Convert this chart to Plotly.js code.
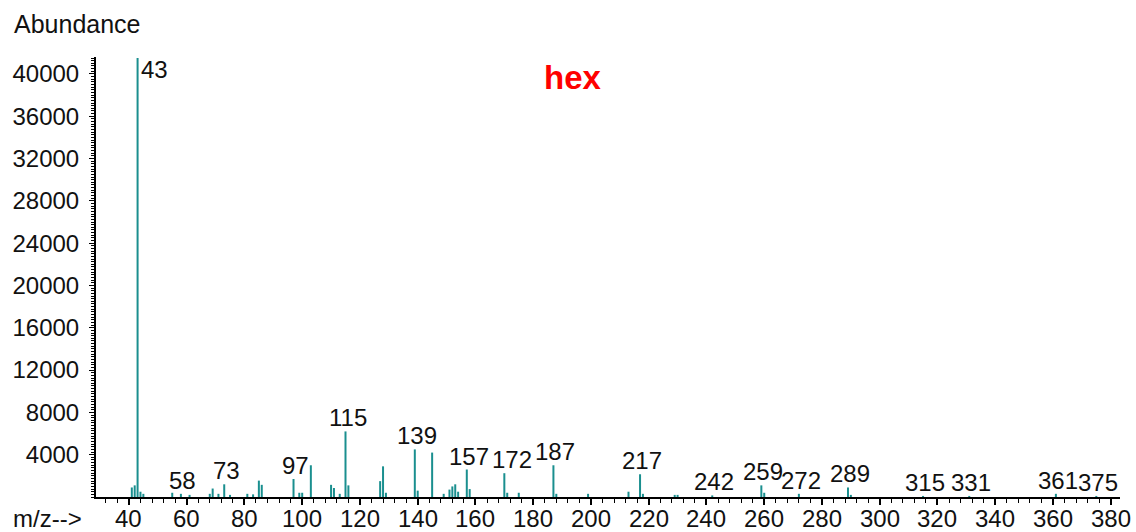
<!DOCTYPE html>
<html>
<head>
<meta charset="utf-8">
<script src="https://cdn.plot.ly/plotly-3.0.1.min.js"></script>
<style>
html,body{margin:0;padding:0;background:#fff;}
#chart{width:1136px;height:532px;}
</style>
</head>
<body>
<div id="chart"></div>
<script>
// m/z values of the spectrum peaks
var mzValues = [41,42,43,44,45,55,58,61,68,69,71,73,75,81,83,85,86,97,99,100,103,110,111,113,115,116,127,128,129,139,140,145,149,151,152,153,154,157,158,170,171,175,187,188,199,213,217,218,229,230,242,259,260,272,289,290,315,331,361,375];
// abundance of each peak
var abundance = [900,1100,41500,500,300,400,300,200,300,800,300,1200,200,300,250,1550,1150,1700,400,400,3000,1150,850,300,6200,1100,1500,2900,400,4500,600,4200,300,700,1000,1200,500,2600,750,2250,400,400,3000,300,300,500,2150,300,200,200,150,1100,400,300,900,200,100,100,300,100];
// labelled m/z values
var labelValues = [43,58,73,97,115,139,157,172,187,217,242,259,272,289,315,331,361,375];
// axis ticks
var xTickValues = [40,60,80,100,120,140,160,180,200,220,240,260,280,300,320,340,360,380];
var yTickValues = [4000,8000,12000,16000,20000,24000,28000,32000,36000,40000];
var chartTitle = 'hex';
var yLabel = 'Abundance';
var xLabel = 'm/z-->';

var sx = [], sy = [];
for (var i = 0; i < mzValues.length; i++) {
  sx.push(mzValues[i], mzValues[i], null);
  sy.push(0, abundance[i], null);
}

function heightNear(v) {
  var h = 0;
  for (var i = 0; i < mzValues.length; i++) {
    if (Math.abs(mzValues[i] - v) <= 2 && abundance[i] > h) h = abundance[i];
  }
  return h;
}

var maxA = Math.max.apply(null, abundance);
var font = {family: 'Liberation Sans, Arial, sans-serif', size: 24, color: '#111'};
var annotations = labelValues.map(function (v) {
  var h = heightNear(v);
  if (h === maxA) {
    return {x: v, y: h, xref: 'x', yref: 'y', text: String(v), showarrow: false,
            xanchor: 'left', yanchor: 'top', xshift: 1, yshift: 4, font: font};
  }
  return {x: v, y: h, xref: 'x', yref: 'y', text: String(v), showarrow: false,
          xanchor: 'center', yanchor: 'bottom', xshift: 2, yshift: -2, font: font};
});

// x tick labels drawn as annotations so they sit close to the axis
xTickValues.forEach(function (v) {
  annotations.push({x: v, y: -0.0484, xref: 'x', yref: 'paper', text: String(v),
    showarrow: false, xanchor: 'center', yanchor: 'middle', xshift: 0, borderpad: 0, font: font});
});

annotations.push({x: 0.466, y: 0.9545, xref: 'paper', yref: 'paper', text: '<b>' + chartTitle + '</b>',
  showarrow: false, xanchor: 'center', yanchor: 'middle',
  font: {family: 'Liberation Sans, Arial, sans-serif', size: 33, color: '#ff0000'}});
annotations.push({x: -0.082, y: 1.075, xref: 'paper', yref: 'paper', text: yLabel,
  showarrow: false, xanchor: 'left', yanchor: 'middle',
  font: {family: 'Liberation Sans, Arial, sans-serif', size: 25, color: '#111'}});
annotations.push({x: -0.082, y: -0.0484, xref: 'paper', yref: 'paper', text: xLabel,
  showarrow: false, xanchor: 'left', yanchor: 'middle', borderpad: 0, font: font});

var trace = {
  x: sx, y: sy, type: 'scatter', mode: 'lines',
  line: {color: '#1a8f8f', width: 2}, hoverinfo: 'skip', cliponaxis: false
};

var layout = {
  width: 1136, height: 532,
  margin: {l: 96, r: 16, t: 57, b: 35},
  paper_bgcolor: '#ffffff', plot_bgcolor: '#ffffff',
  showlegend: false,
  font: font,
  xaxis: {
    range: [28.6, 383.2], tickvals: xTickValues, showticklabels: false,
    showgrid: false, zeroline: false, showline: true, linecolor: '#000', linewidth: 2,
    ticks: 'outside', ticklen: 6, tickwidth: 2, tickcolor: '#000',
    minor: {tick0: 40, dtick: 4, ticks: 'outside', ticklen: 4, tickwidth: 1, tickcolor: '#000'}
  },
  yaxis: {
    range: [0, 41600], tickvals: yTickValues, ticktext: yTickValues.map(String),
    showgrid: false, zeroline: false, showline: true, linecolor: '#000', linewidth: 2,
    ticks: 'outside', ticklen: 5, tickwidth: 1, tickcolor: '#000',
    minor: {dtick: 250, ticks: 'outside', ticklen: 3, tickwidth: 1, tickcolor: '#000'},
    tickfont: font, ticklabelstandoff: 5
  },
  annotations: annotations
};

Plotly.newPlot('chart', [trace], layout, {displayModeBar: false, staticPlot: true});
</script>
</body>
</html>
